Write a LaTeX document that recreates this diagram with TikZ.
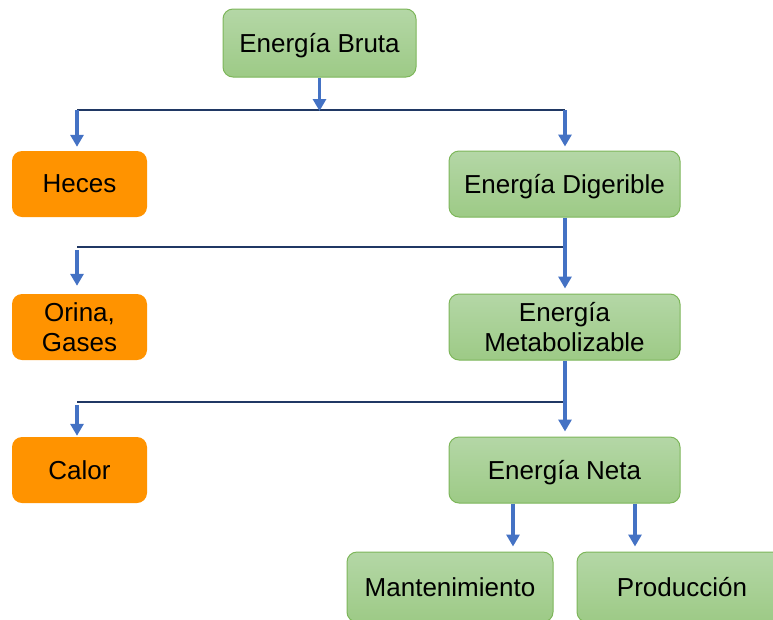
\documentclass[tikz,border=0pt]{standalone}
\usepackage{fontspec}
\setmainfont{Liberation Sans}
\usetikzlibrary{arrows.meta}
\definecolor{gtop}{HTML}{B4D7A6}
\definecolor{gbot}{HTML}{9DCA86}
\definecolor{gbrd}{HTML}{7DB65A}
\definecolor{orng}{HTML}{FF9300}
\definecolor{arrblue}{HTML}{4472C4}
\definecolor{navy}{HTML}{203864}
\tikzset{
  gbox/.style={draw=gbrd, line width=1pt, top color=gtop, bottom color=gbot, rounded corners=10pt,
    minimum width=231pt, minimum height=66pt, align=center, inner sep=0pt, text depth=0pt,
    font=\fontsize{26}{30}\selectfont},
  obox/.style={fill=orng, rounded corners=10pt, minimum width=135pt, minimum height=66pt,
    align=center, inner sep=0pt, text depth=0pt, font=\fontsize{26}{30}\selectfont},
  arr/.style={draw=arrblue, line width=3.5pt, -{Triangle[width=13pt,length=12pt]}},
  bar/.style={draw=navy, line width=2pt}
}
\begin{document}
\begin{tikzpicture}[x=1pt,y=-1pt]
\useasboundingbox (0,0) rectangle (773,619);
\clip (0,0) rectangle (773,619);
\node[gbox, minimum width=193pt, minimum height=68pt] (bruta) at (319.5,43) {Energía Bruta};
\node[obox] (heces) at (79.5,184) {Heces};
\node[gbox] (dig) at (564.5,184) {Energía Digerible};
\node[obox] (orina) at (79.5,327) {Orina,\\Gases};
\node[gbox] (met) at (564.5,327) {Energía\\Metabolizable};
\node[obox] (calor) at (79.5,470) {Calor};
\node[gbox] (neta) at (564.5,470) {Energía Neta};
\node[gbox, minimum width=206pt, minimum height=70pt] (mant) at (450,587) {Mantenimiento};
\node[gbox, minimum width=210pt, minimum height=70pt] (prod) at (682,587) {Producción};
% row 1
\coordinate (j1l) at (77,110);
\coordinate (j1r) at (565,110);
\coordinate (j1m) at (319.5,110);
\draw[bar] (j1l) -- (j1r);
\draw[arr, shorten >=-1pt] (bruta.south) -- (j1m);
\draw[arr, shorten >=4pt] (j1l) -- (j1l |- heces.north);
\draw[arr, shorten >=4pt] (j1r) -- (j1r |- dig.north);
% row 2
\coordinate (j2l) at (77,247);
\coordinate (j2r) at (565,247);
\draw[bar] (j2l) -- (j2r);
\draw[arr, shorten >=5pt] (dig.south -| j2r) -- (met.north -| j2r);
\draw[arr, shorten <=3pt, shorten >=8pt] (j2l) -- (j2l |- orina.north);
% row 3
\coordinate (j3l) at (77,402);
\coordinate (j3r) at (565,402);
\draw[bar] (j3l) -- (j3r);
\draw[arr, shorten >=5pt] (met.south -| j3r) -- (neta.north -| j3r);
\draw[arr, shorten <=3pt, shorten >=1pt] (j3l) -- (j3l |- calor.north);
% row 4
\coordinate (m4) at (513,0);
\coordinate (p4) at (635,0);
\draw[arr, shorten >=5pt] (neta.south -| m4) -- (mant.north -| m4);
\draw[arr, shorten >=5pt] (neta.south -| p4) -- (prod.north -| p4);
\end{tikzpicture}
\end{document}
